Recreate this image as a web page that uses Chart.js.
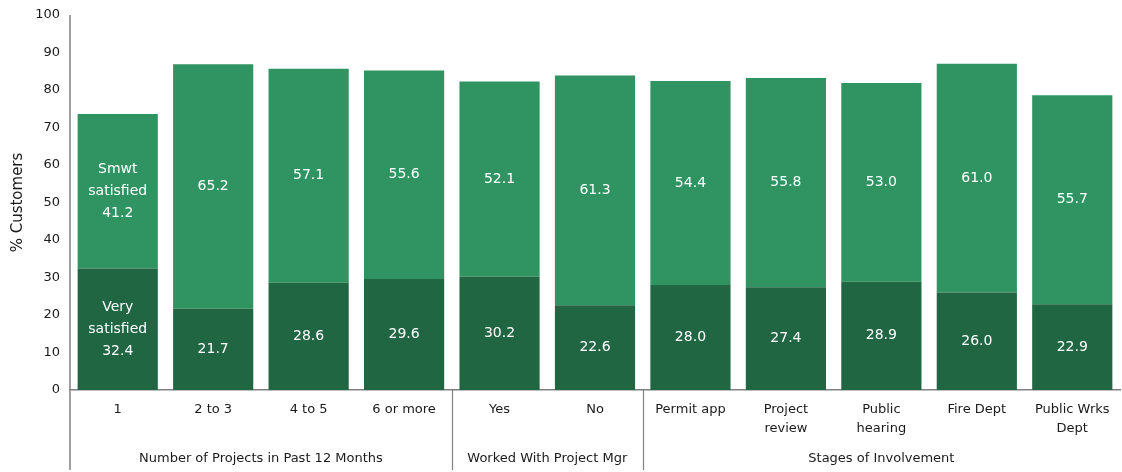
<!DOCTYPE html>
<html>
<head>
<meta charset="utf-8">
<script src="https://cdn.jsdelivr.net/npm/chart.js@4/dist/chart.umd.min.js"></script>
<style>
  html, body { margin: 0; padding: 0; background: #fff; }
  #wrap { width: 1122px; height: 472px; }
</style>
</head>
<body>
<div id="wrap"><canvas id="c" width="1122" height="472"></canvas></div>
<script>
// Customer satisfaction by segment (% of customers)
const categories = [
  ['1'], ['2 to 3'], ['4 to 5'], ['6 or more'],
  ['Yes'], ['No'],
  ['Permit app'], ['Project', 'review'], ['Public', 'hearing'], ['Fire Dept'], ['Public Wrks', 'Dept']
];
const verySatisfied = [32.4, 21.7, 28.6, 29.6, 30.2, 22.6, 28.0, 27.4, 28.9, 26.0, 22.9];
const smwtSatisfied = [41.2, 65.2, 57.1, 55.6, 52.1, 61.3, 54.4, 55.8, 53.0, 61.0, 55.7];
const yTicks = [0, 10, 20, 30, 40, 50, 60, 70, 80, 90, 100];

// Category groups: [label, first index, last index]
const groups = [
  ['Number of Projects in Past 12 Months', 0, 3],
  ['Worked With Project Mgr', 4, 5],
  ['Stages of Involvement', 6, 10]
];

const FONT = '"DejaVu Sans", sans-serif';
const DARK = '#216642';
const LIGHT = '#2f9462';

// Draws values inside each segment, the first bar carrying the series names
const segmentLabels = {
  id: 'segmentLabels',
  afterDatasetsDraw(chart) {
    const ctx = chart.ctx;
    ctx.save();
    ctx.fillStyle = '#ffffff';
    ctx.font = '14px ' + FONT;
    ctx.textAlign = 'center';
    ctx.textBaseline = 'middle';
    const names = [['Very', 'satisfied'], ['Smwt', 'satisfied']];
    chart.data.datasets.forEach((ds, di) => {
      const meta = chart.getDatasetMeta(di);
      meta.data.forEach((bar, i) => {
        const cy = (bar.y + bar.base) / 2;
        const txt = ds.data[i].toFixed(1);
        if (i === 0) {
          const lines = names[di].concat([txt]);
          const lh = 22;
          lines.forEach((l, k) => {
            ctx.fillText(l, bar.x, cy + (k - (lines.length - 1) / 2) * lh);
          });
        } else {
          ctx.fillText(txt, bar.x, cy);
        }
      });
    });
    ctx.restore();
  }
};

// Vertical axis line, group separators and group titles below the category labels
const groupAxis = {
  id: 'groupAxis',
  afterDraw(chart) {
    const ctx = chart.ctx;
    const x = chart.scales.x;
    const area = chart.chartArea;
    const bottom = chart.height - 2;
    ctx.save();
    ctx.strokeStyle = '#808080';
    ctx.lineWidth = 1.5;
    ctx.beginPath();
    ctx.moveTo(area.left, area.top);
    ctx.lineTo(area.left, bottom);
    ctx.stroke();
    ctx.lineWidth = 1.2;
    ctx.fillStyle = '#1a1a1a';
    ctx.font = '13px ' + FONT;
    ctx.textAlign = 'center';
    ctx.textBaseline = 'middle';
    groups.forEach(([label, a, b], gi) => {
      const half = (x.getPixelForTick(1) - x.getPixelForTick(0)) / 2;
      const left = x.getPixelForTick(a) - half;
      const right = x.getPixelForTick(b) + half;
      if (gi > 0) {
        ctx.beginPath();
        ctx.moveTo(Math.round(left) + 0.5, area.bottom);
        ctx.lineTo(Math.round(left) + 0.5, bottom);
        ctx.stroke();
      }
      ctx.fillText(label, (left + right) / 2, area.bottom + 69);
    });
    ctx.restore();
  }
};

new Chart(document.getElementById('c'), {
  type: 'bar',
  data: {
    labels: categories,
    datasets: [
      { label: 'Very satisfied', data: verySatisfied, backgroundColor: DARK, borderWidth: 0 },
      { label: 'Smwt satisfied', data: smwtSatisfied, backgroundColor: LIGHT, borderWidth: 0 }
    ]
  },
  options: {
    responsive: false,
    animation: false,
    devicePixelRatio: 1,
    layout: { padding: { top: 15, right: 2, left: 0, bottom: 0 } },
    datasets: { bar: { categoryPercentage: 1.0, barPercentage: 0.84 } },
    plugins: {
      legend: { display: false },
      tooltip: { enabled: false }
    },
    scales: {
      x: {
        stacked: true,
        grid: { display: false, drawTicks: false },
        border: { display: true, color: '#808080', width: 1.5 },
        ticks: {
          color: '#1a1a1a',
          font: { family: FONT, size: 13, lineHeight: 1.45 },
          padding: 10,
          maxRotation: 0,
          autoSkip: false
        },
        afterFit(scale) { scale.height = 82; }
      },
      y: {
        stacked: true,
        min: 0,
        max: 100,
        afterBuildTicks(scale) { scale.ticks = yTicks.map(v => ({ value: v })); },
        grid: { display: false, drawTicks: false },
        border: { display: false },
        ticks: {
          color: '#1a1a1a',
          font: { family: FONT, size: 13, lineHeight: 1 },
          padding: 10
        },
        title: {
          display: true,
          text: '% Customers',
          color: '#1a1a1a',
          font: { family: FONT, size: 15 },
          padding: { top: 9, bottom: 4 }
        },
        afterFit(scale) {
          scale.width = 70;
          scale.paddingTop = 0;
          scale.paddingBottom = 0;
        }
      }
    }
  },
  plugins: [segmentLabels, groupAxis]
});
</script>
</body>
</html>
